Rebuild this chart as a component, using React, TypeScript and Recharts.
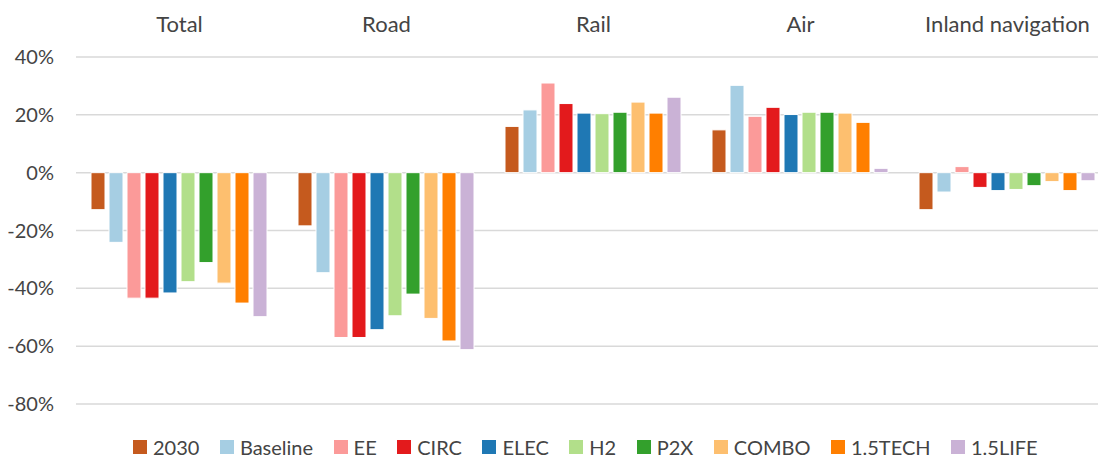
import React from "react";
import { BarChart, Bar, XAxis, YAxis, CartesianGrid, Legend } from "recharts";

const categories = ["Total", "Road", "Rail", "Air", "Inland navigation"];
const seriesNames = ["2030", "Baseline", "EE", "CIRC", "ELEC", "H2", "P2X", "COMBO", "1.5TECH", "1.5LIFE"];
const seriesColors = ["#c55a1e", "#a6cee3", "#fb9a99", "#e31a1c", "#1f78b4", "#b2df8a", "#33a02c", "#fdbf6f", "#ff7f00", "#cab2d6"];

const s2030 = [-12.8, -18.4, 16.0, 14.8, -12.8];
const sBaseline = [-24.1, -34.6, 21.7, 30.2, -6.7];
const sEE = [-43.4, -57.0, 31.0, 19.5, 2.1];
const sCIRC = [-43.4, -57.0, 23.9, 22.6, -5.1];
const sELEC = [-41.6, -54.3, 20.6, 20.1, -6.2];
const sH2 = [-37.7, -49.5, 20.4, 20.9, -5.8];
const sP2X = [-31.1, -42.0, 20.9, 20.9, -4.5];
const sCOMBO = [-38.2, -50.4, 24.4, 20.6, -3.1];
const s15TECH = [-45.1, -58.2, 20.6, 17.4, -6.2];
const s15LIFE = [-49.8, -61.2, 26.1, 1.5, -2.8];

const seriesValues = [s2030, sBaseline, sEE, sCIRC, sELEC, sH2, sP2X, sCOMBO, s15TECH, s15LIFE];
const yTicks = [-80, -60, -40, -20, 0, 20, 40];

const data = categories.map((c, i) => {
  const row: Record<string, string | number> = { category: c };
  seriesNames.forEach((s, j) => {
    row[s] = seriesValues[j][i];
  });
  return row;
});

const textColor = "#444444";
const font = "Lato, 'Open Sans', sans-serif";

const LegendContent = () => (
  <div
    style={{
      height: 53,
      display: "flex",
      alignItems: "flex-end",
      paddingLeft: 133,
      boxSizing: "border-box",
      paddingBottom: 0,
    }}
  >
    <div style={{ display: "flex", alignItems: "center", height: 21 }}>
      {seriesNames.map((s, i) => (
        <div key={s} style={{ display: "flex", alignItems: "center", marginRight: 20.5 }}>
          <span style={{ width: 14, height: 14, background: seriesColors[i], display: "inline-block", marginRight: 6 }} />
          <span style={{ fontFamily: font, fontSize: 20, color: textColor, whiteSpace: "nowrap" }}>{s}</span>
        </div>
      ))}
    </div>
  </div>
);

export default function App() {
  return (
    <div style={{ position: "absolute", left: 0, top: 0, width: 1098, height: 457, overflow: "hidden", background: "#fff" }}>
      <BarChart
        width={1120}
        height={457}
        data={data}
        margin={{ top: 0, right: 9, left: 0, bottom: 0 }}
        barCategoryGap={15}
        barGap={4}
        style={{ fontFamily: font }}
      >
        <CartesianGrid vertical={false} stroke="#d9d9d9" strokeWidth={1.5} />
        <XAxis
          dataKey="category"
          orientation="top"
          height={57}
          axisLine={false}
          tickLine={false}
          tickSize={0}
          tickMargin={25}
          tick={{ fill: textColor, fontSize: 22, fontFamily: font }}
          interval={0}
        />
        <YAxis
          width={76}
          domain={[-80, 40]}
          ticks={yTicks}
          axisLine={false}
          tickLine={false}
          tickSize={0}
          tickMargin={22}
          tickFormatter={(v: number) => `${v}%`}
          tick={{ fill: textColor, fontSize: 20, fontFamily: font }}
        />
        <Legend verticalAlign="bottom" content={<LegendContent />} wrapperStyle={{ left: 0, width: 1098 }} />
        {seriesNames.map((s, i) => (
          <Bar key={s} dataKey={s} fill={seriesColors[i]} stroke="#ffffff" strokeWidth={1} isAnimationActive={false} />
        ))}
      </BarChart>
    </div>
  );
}
